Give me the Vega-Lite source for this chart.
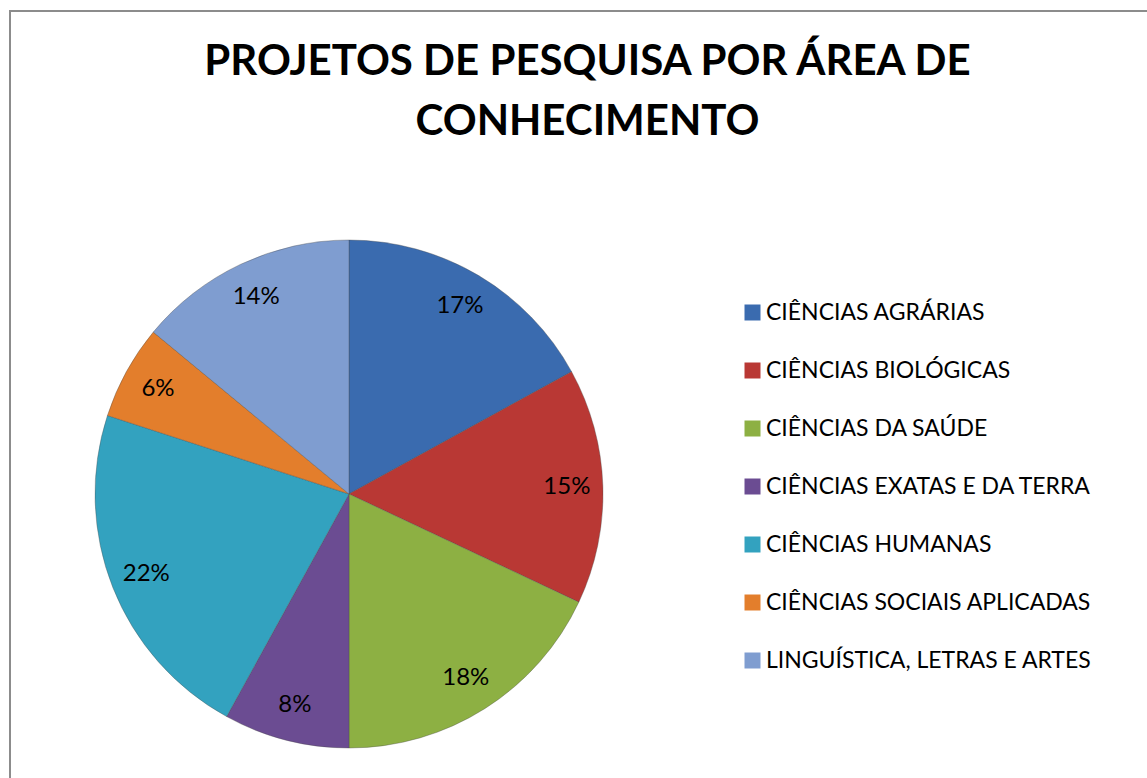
{
  "$schema": "https://vega.github.io/schema/vega-lite/v6.json",
  "autosize": {"type": "fit", "contains": "padding"},
  "width": 1147,
  "height": 778,
  "padding": {"left": 10, "top": 11, "right": -4, "bottom": -4},
  "background": "#ffffff",
  "view": {"stroke": "#8c8c8c", "strokeWidth": 2, "fill": "#ffffff"},
  "config": {
    "view": {"stroke": "#8c8c8c", "strokeWidth": 2},
    "font": "Lato"
  },
  "title": {
    "text": ["PROJETOS DE PESQUISA POR ÁREA DE", "CONHECIMENTO"],
    "font": "Lato",
    "fontSize": 42,
    "fontWeight": "bold",
    "color": "#000000",
    "anchor": "middle",
    "lineHeight": 60,
    "offset": -133,
    "dx": 7
  },
  "data": {
    "values": [
      {"i": 1, "area": "CIÊNCIAS AGRÁRIAS", "share": 0.17},
      {"i": 2, "area": "CIÊNCIAS BIOLÓGICAS", "share": 0.15},
      {"i": 3, "area": "CIÊNCIAS DA SAÚDE", "share": 0.18},
      {"i": 4, "area": "CIÊNCIAS EXATAS E DA TERRA", "share": 0.08},
      {"i": 5, "area": "CIÊNCIAS HUMANAS", "share": 0.22},
      {"i": 6, "area": "CIÊNCIAS SOCIAIS APLICADAS", "share": 0.06},
      {"i": 7, "area": "LINGUÍSTICA, LETRAS E ARTES", "share": 0.14}
    ]
  },
  "encoding": {
    "theta": {"field": "share", "type": "quantitative", "stack": true},
    "order": {"field": "i", "type": "quantitative"},
    "color": {
      "field": "area",
      "type": "nominal",
      "sort": null,
      "scale": {
        "domain": ["CIÊNCIAS AGRÁRIAS", "CIÊNCIAS BIOLÓGICAS", "CIÊNCIAS DA SAÚDE", "CIÊNCIAS EXATAS E DA TERRA", "CIÊNCIAS HUMANAS", "CIÊNCIAS SOCIAIS APLICADAS", "LINGUÍSTICA, LETRAS E ARTES"],
        "range": ["#3A6BAF", "#B93834", "#8DB043", "#6B4C92", "#33A2BF", "#E37E2C", "#7F9DD0"]
      },
      "legend": {
        "title": null,
        "orient": "none",
        "legendX": 731,
        "legendY": 290,
        "symbolType": "square",
        "symbolSize": 256,
        "symbolStrokeWidth": 0,
        "symbolOpacity": 1,
        "labelFont": "Lato",
        "labelFontSize": 23,
        "labelColor": "#000000",
        "labelOffset": 2,
        "labelLimit": 400,
        "rowPadding": 34
      }
    }
  },
  "layer": [
    {
      "mark": {"type": "arc", "x": 339, "y": 483, "outerRadius": 254, "stroke": "#4a4a4a", "strokeWidth": 0.6, "strokeOpacity": 0.6}
    },
    {
      "mark": {"type": "text", "x": 339, "y": 483, "radius": 218, "font": "Lato", "fontSize": 24, "color": "#000000"},
      "encoding": {
        "text": {"field": "share", "type": "quantitative", "format": ".0%"},
        "color": {"value": "#000000"}
      }
    }
  ]
}
